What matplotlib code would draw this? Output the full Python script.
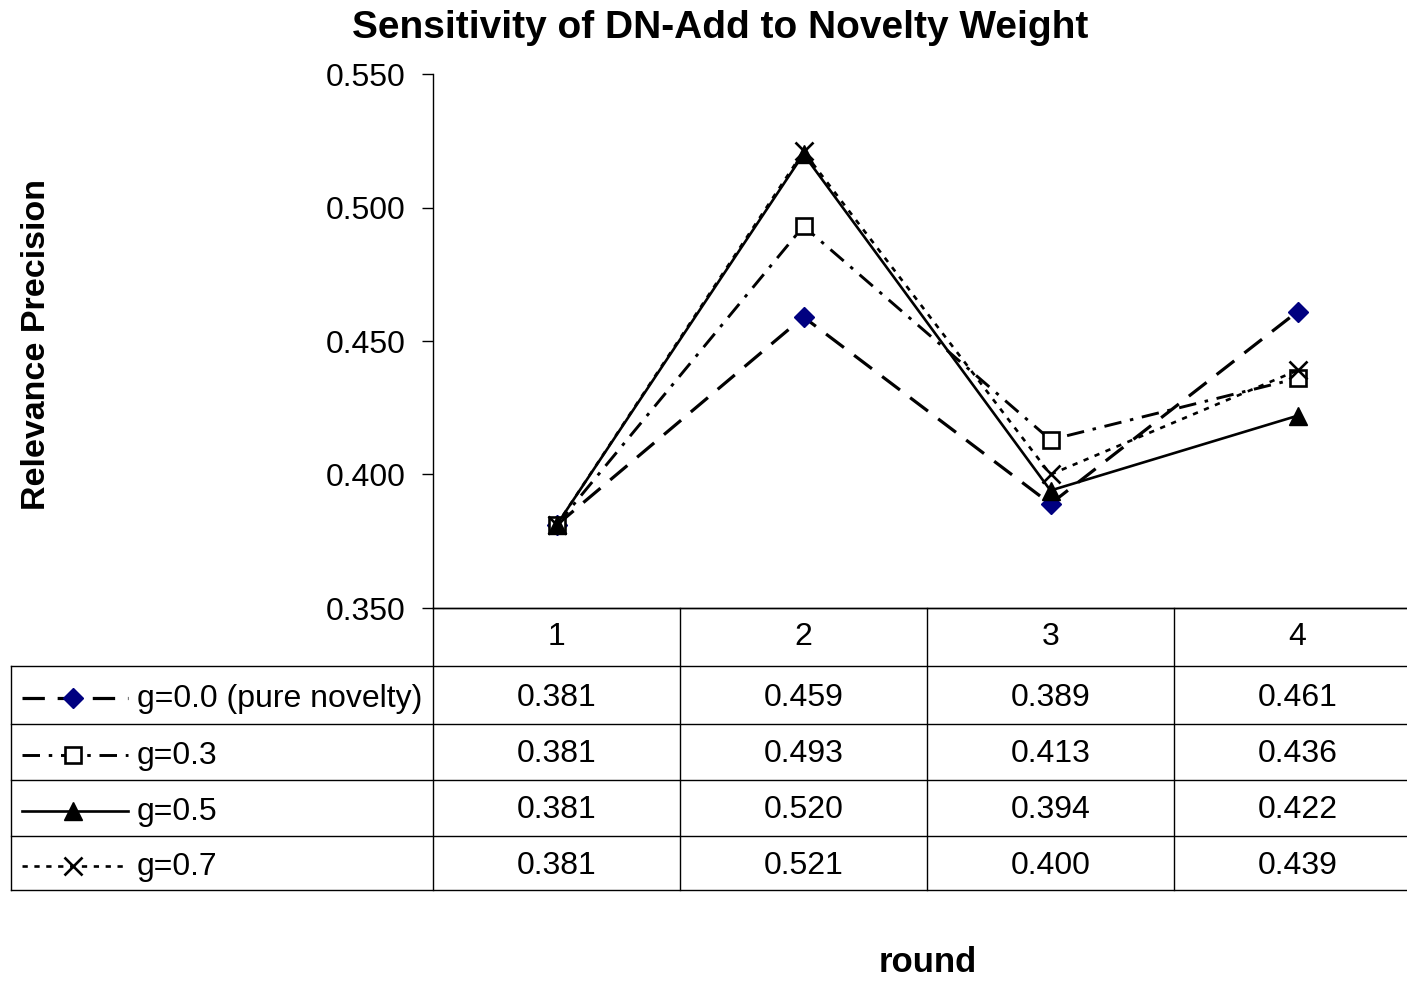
import numpy as np
import matplotlib as mpl
mpl.use("Agg")
import matplotlib.pyplot as plt
from matplotlib.lines import Line2D

plt.rcParams['font.family'] = ['Liberation Sans', 'DejaVu Sans']

rounds = [1, 2, 3, 4]
labels = ["g=0.0 (pure novelty)", "g=0.3", "g=0.5", "g=0.7"]
g00 = [0.381, 0.459, 0.389, 0.461]
g03 = [0.381, 0.493, 0.413, 0.436]
g05 = [0.381, 0.520, 0.394, 0.422]
g07 = [0.381, 0.521, 0.400, 0.439]
yticks = [0.350, 0.400, 0.450, 0.500, 0.550]

W, H = 1407, 981
fig = plt.figure(figsize=(W / 100, H / 100), dpi=100)

def fx(px):
    return px / W

def fy(py):
    return 1 - py / H

cell = 247
x0 = 433
ax = fig.add_axes([fx(x0), fy(608), fx(4 * cell), fy(74) - fy(608)])

styles = [
    dict(color="black", ls=(0, (7, 4)), lw=2.3, marker="D", ms=10, mfc="#000080", mec="#000080"),
    dict(color="black", ls=(0, (6, 3, 1.2, 3)), lw=2.1, marker="s", ms=11, mfc="white", mec="black", mew=1.9),
    dict(color="black", ls="-", lw=1.9, marker="^", ms=13, mfc="black", mec="black"),
    dict(color="black", ls=(0, (2, 2.5)), lw=1.9, marker="x", ms=13, mec="black", mew=1.9),
]
series = [g00, g03, g05, g07]
xs = np.arange(len(rounds))
for vals, st in zip(series, styles):
    ax.plot(xs, vals, clip_on=False, **st)

ax.set_xlim(-0.5, len(rounds) - 0.5)
ax.set_ylim(0.350, 0.550)
ax.set_yticks(yticks)
ax.set_yticklabels([f"{v:.3f}" for v in yticks], fontsize=23)
ax.tick_params(axis="y", length=8, width=1, pad=12, direction="out")
ax.set_xticks([])
for s in ["top", "right"]:
    ax.spines[s].set_visible(False)
ax.spines["left"].set_linewidth(1)
ax.spines["bottom"].set_linewidth(1)

# data table
rows_y = [608, 666, 724, 780, 836, 890]
lc = "black"
lw = 1.0
fig.add_artist(Line2D([fx(x0), fx(x0 + 4 * cell)], [fy(608)] * 2, color=lc, lw=lw))
for yy in rows_y[1:]:
    fig.add_artist(Line2D([fx(11), fx(x0 + 4 * cell)], [fy(yy)] * 2, color=lc, lw=lw))
for i in range(5):
    xx = x0 + i * cell
    fig.add_artist(Line2D([fx(xx)] * 2, [fy(608), fy(890)], color=lc, lw=lw))
fig.add_artist(Line2D([fx(11)] * 2, [fy(666), fy(890)], color=lc, lw=lw))

for i, r in enumerate(rounds):
    fig.text(fx(x0 + cell * (i + 0.5)), fy(637), str(r), ha="center", va="center", fontsize=23)

for j, (vals, lab, st) in enumerate(zip(series, labels, styles)):
    yc = (rows_y[j + 1] + rows_y[j + 2]) / 2
    for i, v in enumerate(vals):
        fig.text(fx(x0 + cell * (i + 0.5)), fy(yc + 2.5), f"{v:.3f}", ha="center", va="center", fontsize=23)
    line_kw = {k: val for k, val in st.items() if k in ("color", "ls", "lw")}
    mark_kw = {k: val for k, val in st.items() if k not in ("color", "ls", "lw")}
    fig.add_artist(Line2D([fx(22), fx(128)], [fy(yc + 3)] * 2, **line_kw))
    fig.add_artist(Line2D([fx(73)], [fy(yc + 3)], ls="none", **mark_kw))
    fig.text(fx(137), fy(yc + 4), lab, ha="left", va="center", fontsize=23)

fig.text(fx(720), fy(28), "Sensitivity of DN-Add to Novelty Weight", ha="center", va="center",
         fontsize=28, fontweight="bold")
fig.text(fx(37), fy(345), "Relevance Precision", ha="center", va="center", rotation=90,
         fontsize=24.5, fontweight="bold")
fig.text(fx(928), fy(962), "round", ha="center", va="center", fontsize=25, fontweight="bold")

fig.savefig("out.png", dpi=100)
